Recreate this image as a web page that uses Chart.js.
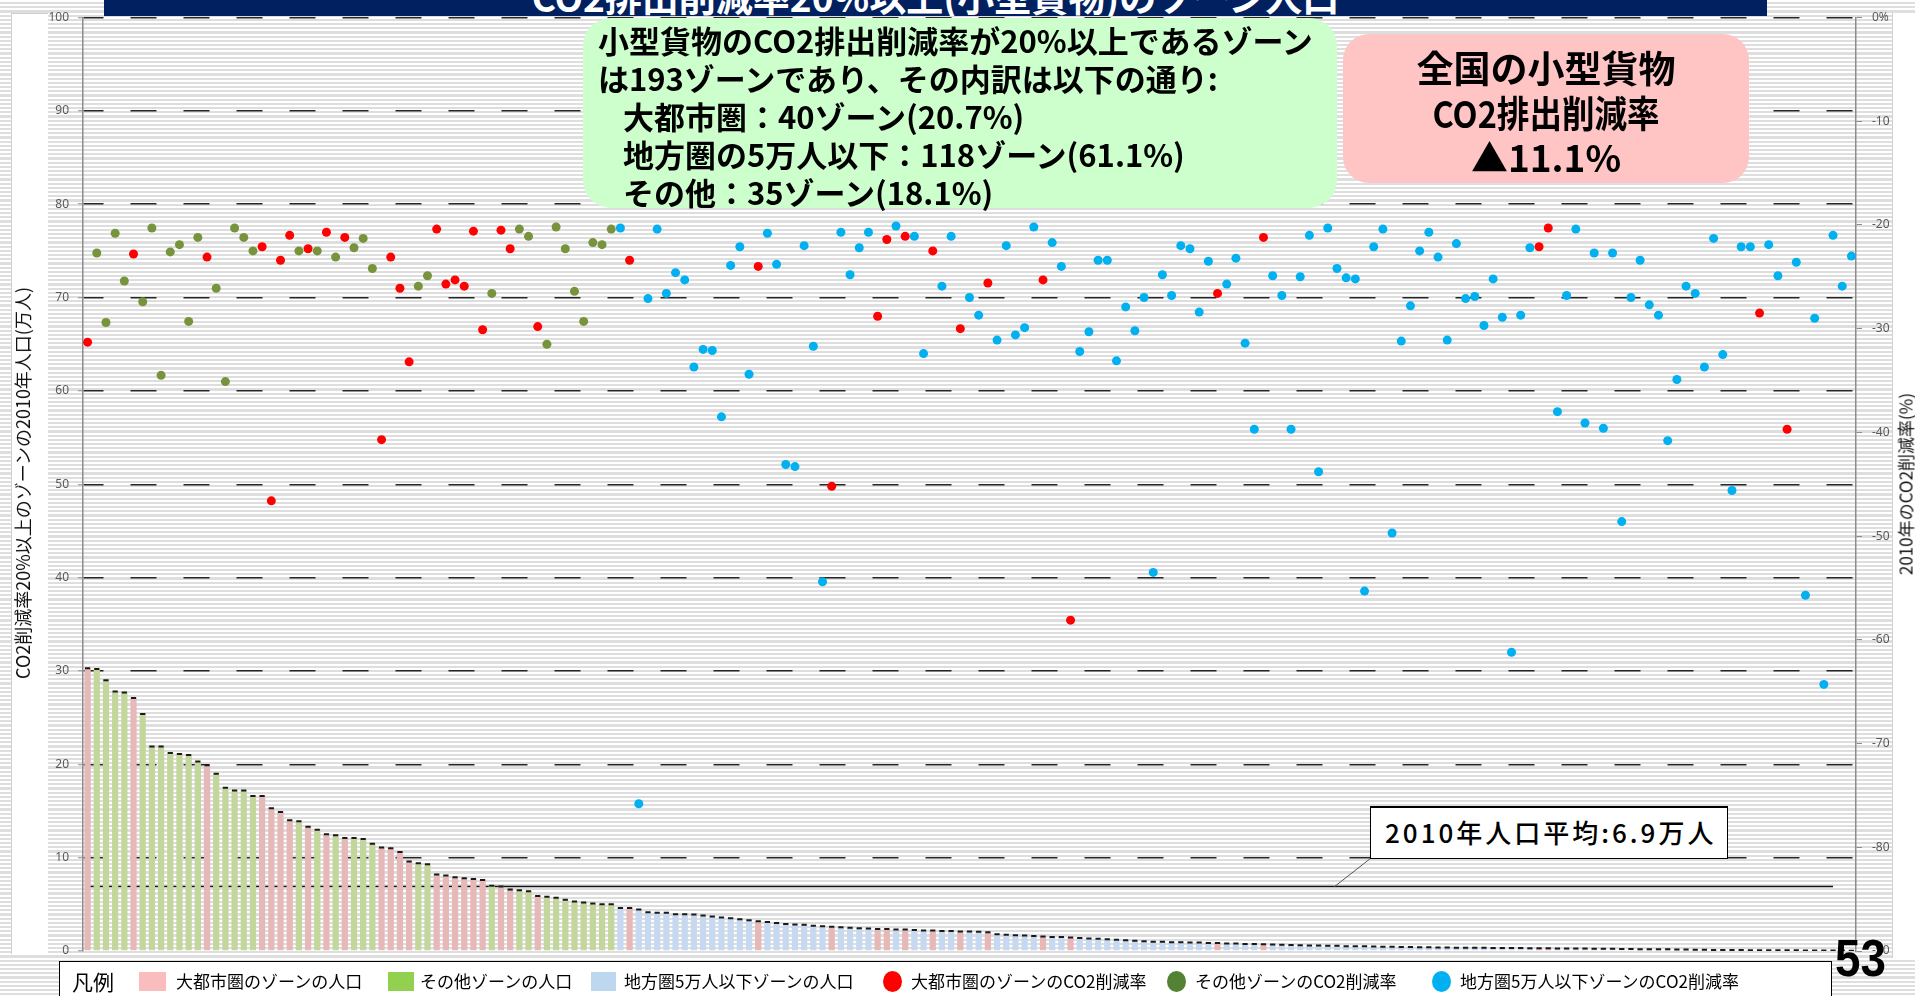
<!DOCTYPE html>
<html lang="ja">
<head>
<meta charset="utf-8">
<title>CO2排出削減率20%以上(小型貨物)のゾーン人口</title>
<script src="https://cdn.jsdelivr.net/npm/chart.js"></script>
<style>
  html, body { margin: 0; padding: 0; }
  body {
    width: 1915px; height: 996px; overflow: hidden; position: relative;
    background: repeating-linear-gradient(to bottom, #ffffff 0px, #ffffff 2.1px, #dedede 2.1px, #dedede 4.2px);
    font-family: "Noto Sans CJK JP", "Noto Sans", sans-serif;
    color: #000;
  }
  .abs { position: absolute; }
  #leftStrip { left: 11px; top: 13px; width: 36px; height: 940px; background: #fff; border-left: 1px solid #d0d0d0; border-top: 1px solid #d0d0d0; }
  #rightStrip { left: 1892px; top: 13px; width: 23px; height: 945px; background: #fff; border-left: 1px solid #d0d0d0; }
  #chartBox { position: absolute; left: 0; top: 0; width: 1915px; height: 996px; }

  #titleBar { left: 104px; top: 0; width: 1663px; height: 16px; background: #002060; overflow: hidden; }
  #titleBar span { position: absolute; left: 0; right: 0; top: -22px; text-align: center; color: #fff;
    font-weight: 700; font-size: 37px; line-height: 37px; white-space: nowrap; }

  .vtitle { white-space: nowrap; transform: translate(-50%, -50%) rotate(-90deg); color: #111; }
  #leftTitle { left: 22px; top: 483px; font-size: 18px; }
  #rightTitle { left: 1905px; top: 484px; font-size: 17px; }

  #greenBox { left: 583px; top: 18px; width: 754px; height: 190px; background: #CCFFCC; border-radius: 28px;
    box-sizing: border-box; padding: 3px 0 0 15px; font-size: 31px; font-weight: 700; line-height: 37.9px; white-space: nowrap; }
  #greenBox .ind { padding-left: 25px; }

  #pinkBox { left: 1343px; top: 34px; width: 406px; height: 149px; background: #FFC4C4; border-radius: 26px;
    box-sizing: border-box; padding-top: 11px; text-align: center; font-size: 37px; font-weight: 700; line-height: 44.5px; white-space: nowrap; }
  #pinkBox .narrow { display: inline-block; transform: scaleX(0.88); }

  #callout { left: 1370px; top: 806px; width: 358px; height: 53px; background: #fff; box-sizing: border-box;
    border: 1.5px solid #000; border-top-width: 2.5px; padding-left: 14px; font-size: 26px; font-weight: 500;
    letter-spacing: 3px; line-height: 48px; white-space: nowrap; }
  #leader { left: 0; top: 0; width: 1915px; height: 996px; pointer-events: none; }

  #legend { left: 59px; top: 961px; width: 1773px; height: 45px; background: #fff; border: 1.5px solid #000; box-sizing: border-box; }
  #legend .t { position: absolute; top: 9px; font-size: 17px; line-height: 20px; white-space: nowrap; }
  #legend .head { position: absolute; left: 12px; top: 7px; font-size: 21px; line-height: 24px; }
  #legend .sq { position: absolute; top: 10px; height: 19px; }
  #legend .dot { position: absolute; top: 9px; width: 19px; height: 21px; border-radius: 50%; }

  #pageNo { left: 1835px; top: 931px; font-family: "Liberation Sans", "DejaVu Sans", sans-serif;
    font-weight: 700; font-size: 52px; line-height: 54px; transform: scaleX(0.88); transform-origin: left top; }
</style>
</head>
<body>
<div id="leftStrip" class="abs"></div>
<div id="rightStrip" class="abs"></div>

<div id="chartBox"><canvas id="zoneChart"></canvas></div>

<div id="titleBar" class="abs"><span>CO2排出削減率20%以上(小型貨物)のゾーン人口</span></div>

<div id="leftTitle" class="abs vtitle">CO2削減率20%以上のゾーンの2010年人口(万人)</div>
<div id="rightTitle" class="abs vtitle">2010年のCO2削減率(%)</div>

<div id="greenBox" class="abs">
  <div>小型貨物のCO2排出削減率が20%以上であるゾーン</div>
  <div>は193ゾーンであり、その内訳は以下の通り:</div>
  <div class="ind">大都市圏：40ゾーン(20.7%)</div>
  <div class="ind">地方圏の5万人以下：118ゾーン(61.1%)</div>
  <div class="ind">その他：35ゾーン(18.1%)</div>
</div>

<div id="pinkBox" class="abs">
  <div>全国の小型貨物</div>
  <div><span class="narrow">CO2排出削減率</span></div>
  <div>▲11.1%</div>
</div>

<svg id="leader" class="abs"><line x1="1371" y1="858" x2="1334" y2="887" stroke="#555" stroke-width="1"/></svg>
<div id="callout" class="abs">2010年人口平均:6.9万人</div>

<div id="legend" class="abs">
  <div class="head">凡例</div>
  <div class="sq" style="left:79px;width:27px;background:#F9BDBD"></div>
  <div class="t" style="left:116px">大都市圏のゾーンの人口</div>
  <div class="sq" style="left:328px;width:26px;background:#92D050"></div>
  <div class="t" style="left:360px">その他ゾーンの人口</div>
  <div class="sq" style="left:531px;width:25px;background:#BDD7EE"></div>
  <div class="t" style="left:564px">地方圏5万人以下ゾーンの人口</div>
  <div class="dot" style="left:823px;background:#FF0000"></div>
  <div class="t" style="left:851px">大都市圏のゾーンのCO2削減率</div>
  <div class="dot" style="left:1107px;background:#548235"></div>
  <div class="t" style="left:1135px">その他ゾーンのCO2削減率</div>
  <div class="dot" style="left:1372px;background:#00B0F0"></div>
  <div class="t" style="left:1400px">地方圏5万人以下ゾーンのCO2削減率</div>
</div>

<div id="pageNo" class="abs">53</div>

<script>
// zone type per zone, in chart order: M = 大都市圏, O = その他, R = 地方圏5万人以下
const zoneType = (
  'MOOOOMOOOO' + 'OOOMOOOOOM' + 'MMMOMOMOMO' + 'OOMMMMOOMM' + 'MMMMOMMOOM' +
  'OOOOOOOORM' + 'RRRRRRRRRR' + 'RRRMRRRRRR' + 'RMRRRRMMRM' + 'RRMRRMRRMR' +
  'RRRRMRRMRR' + 'RRRRRRRRRR' + 'RRRMRRRRMR' + 'RRRRRRRRRR' + 'RRRRRRRRRR' +
  'RRRRRRRRMM' + 'RRRRRRRRRR' + 'RRRRRRRRRR' + 'RRMRRMRRRR' + 'RRR'
).split('');

// 2010年人口 (万人), left axis
const population = [
  30.3, 30.2, 29.0, 27.8, 27.7, 27.1, 25.4, 21.9, 21.9, 21.2,
  21.1, 21.0, 20.3, 19.9, 19.0, 17.5, 17.2, 17.2, 16.6, 16.6,
  15.3, 14.9, 14.0, 13.9, 13.3, 13.0, 12.5, 12.4, 12.1, 12.1,
  12.0, 11.5, 11.1, 11.0, 10.6, 9.6, 9.4, 9.3, 8.2, 8.1,
  7.9, 7.8, 7.7, 7.6, 7.0, 6.9, 6.6, 6.5, 6.4, 5.9,
  5.8, 5.7, 5.5, 5.3, 5.2, 5.1, 5.0, 5.0, 4.6, 4.6,
  4.45, 4.15, 4.1, 4.1, 3.95, 3.95, 3.9, 3.8, 3.7, 3.6,
  3.5, 3.4, 3.3, 3.2, 3.1, 3.0, 2.9, 2.85, 2.8, 2.7,
  2.65, 2.6, 2.55, 2.5, 2.45, 2.4, 2.35, 2.35, 2.3, 2.3,
  2.25, 2.2, 2.2, 2.15, 2.15, 2.1, 2.1, 2.05, 2.0, 1.8,
  1.75, 1.7, 1.65, 1.6, 1.55, 1.5, 1.5, 1.45, 1.4, 1.35,
  1.3, 1.25, 1.2, 1.15, 1.1, 1.05, 1.0, 1.0, 0.95, 0.95,
  0.9, 0.9, 0.85, 0.85, 0.8, 0.8, 0.75, 0.75, 0.72, 0.7,
  0.68, 0.65, 0.62, 0.6, 0.58, 0.55, 0.55, 0.52, 0.5, 0.5,
  0.48, 0.46, 0.45, 0.44, 0.42, 0.4, 0.4, 0.38, 0.38, 0.36,
  0.36, 0.35, 0.34, 0.33, 0.32, 0.32, 0.31, 0.3, 0.3, 0.29,
  0.28, 0.28, 0.27, 0.26, 0.25, 0.24, 0.23, 0.22, 0.21, 0.2,
  0.2, 0.19, 0.18, 0.16, 0.15, 0.14, 0.13, 0.12, 0.11, 0.1,
  0.1, 0.09, 0.09, 0.08, 0.08, 0.07, 0.07, 0.06, 0.06, 0.05,
  0.05, 0.05, 0.04
];

// 2010年のCO2削減率 (%), right axis
const reductionRate = [
  -31.3, -22.7, -29.4, -20.8, -25.4, -22.8, -27.4, -20.3, -34.5, -22.6,
  -21.9, -29.3, -21.2, -23.1, -26.1, -35.1, -20.3, -21.2, -22.5, -22.1,
  -46.6, -23.4, -21.0, -22.5, -22.3, -22.5, -20.7, -23.1, -21.2, -22.2,
  -21.3, -24.2, -40.7, -23.1, -26.1, -33.2, -25.9, -24.9, -20.4, -25.7,
  -25.3, -25.9, -20.6, -30.1, -26.6, -20.5, -22.3, -20.4, -21.1, -29.8,
  -31.5, -20.2, -22.3, -26.4, -29.3, -21.7, -21.9, -20.4, -20.3, -23.4,
  -75.8, -27.1, -20.4, -26.6, -24.6, -25.3, -33.7, -32.0, -32.1, -38.5,
  -23.9, -22.1, -34.4, -24.0, -20.8, -23.8, -43.1, -43.3, -22.0, -31.7,
  -54.4, -45.2, -20.7, -24.8, -22.2, -20.7, -28.8, -21.4, -20.1, -21.1,
  -21.1, -32.4, -22.5, -25.9, -21.1, -30.0, -27.0, -28.7, -25.6, -31.1,
  -22.0, -30.6, -29.9, -20.2, -25.3, -21.7, -24.0, -58.1, -32.2, -30.3,
  -23.4, -23.4, -33.1, -27.9, -30.2, -27.0, -53.5, -24.8, -26.8, -22.0,
  -22.3, -28.4, -23.5, -26.6, -25.7, -23.2, -31.4, -39.7, -21.2, -24.9,
  -26.8, -39.7, -25.0, -21.0, -43.8, -20.3, -24.2, -25.1, -25.2, -55.3,
  -22.1, -20.4, -49.7, -31.2, -27.8, -22.5, -20.7, -23.1, -31.1, -21.8,
  -27.1, -26.9, -29.7, -25.2, -28.9, -61.2, -28.7, -22.2, -22.1, -20.3,
  -38.0, -26.8, -20.4, -39.1, -22.7, -39.6, -22.7, -48.6, -27.0, -23.4,
  -27.7, -28.7, -40.8, -34.9, -25.9, -26.6, -33.7, -21.3, -32.5, -45.6,
  -22.1, -22.1, -28.5, -21.9, -24.9, -39.7, -23.6, -55.7, -29.0, -64.3,
  -21.0, -25.9, -23.0
];

const avgPopulation = 6.9;      // 2010年人口平均 (万人)
const avgLineLastZone = 191;    // the average line stops near the right end

const leftTicks = { min: 0, max: 100, step: 10 };
const rightTicks = { min: -90, max: 0, step: 10 };

const barColor = { M: '#E6B9B8', O: '#C3D69B', R: '#C6D9F1' };
const dotColor = { M: '#FF0000', O: '#77933C', R: '#00B0F0' };

const zoneLabels = population.map((_, i) => 'ゾーン' + (i + 1));

const tickFont = { family: '"Noto Sans", sans-serif', size: 12 };

new Chart(document.getElementById('zoneChart'), {
  type: 'bar',
  data: {
    labels: zoneLabels,
    datasets: [
      {
        type: 'line',
        label: '2010年人口平均',
        data: [
          { x: zoneLabels[0], y: avgPopulation },
          { x: zoneLabels[avgLineLastZone - 1], y: avgPopulation }
        ],
        borderColor: '#111',
        borderWidth: 1.5,
        pointRadius: 0,
        yAxisID: 'y',
        order: 4
      },
      {
        type: 'bar',
        label: 'ゾーンの人口',
        data: population,
        backgroundColor: zoneType.map(t => barColor[t]),
        borderWidth: 0,
        barPercentage: 0.68,
        categoryPercentage: 1.0,
        yAxisID: 'y',
        order: 3
      },
      {
        // short dark cap drawn on top of every bar
        type: 'line',
        label: 'cap',
        data: population,
        showLine: false,
        pointStyle: 'line',
        pointRadius: 2.6,
        pointBorderWidth: 2,
        pointBorderColor: '#1a1a1a',
        yAxisID: 'y',
        order: 2
      },
      {
        type: 'line',
        label: 'ゾーンのCO2削減率',
        data: reductionRate,
        showLine: false,
        pointRadius: 4.5,
        pointBorderWidth: 0,
        pointBackgroundColor: zoneType.map(t => dotColor[t]),
        yAxisID: 'y2',
        order: 1
      }
    ]
  },
  options: {
    responsive: true,
    maintainAspectRatio: false,
    animation: false,
    devicePixelRatio: 1,
    layout: { padding: { top: 17.5, bottom: 45, left: 0, right: 0 } },
    plugins: { legend: { display: false }, tooltip: { enabled: false } },
    scales: {
      x: { type: 'category', display: false, offset: true, grid: { display: false } },
      y: {
        position: 'left',
        min: leftTicks.min, max: leftTicks.max,
        ticks: { stepSize: leftTicks.step, color: '#595959', font: tickFont, padding: 9 },
        grid: {
          color: c => (c.tick && c.tick.value === 0) ? 'rgba(0,0,0,0)' : '#262626',
          lineWidth: 1.5,
          tickLength: 5,
          tickColor: '#8c8c8c',
          tickWidth: 1,
          tickBorderDash: []
        },
        border: { color: '#8c8c8c', width: 1.5, dash: [26, 27], dashOffset: 6 },
        afterFit: s => { s.width = 83; }
      },
      y2: {
        position: 'right',
        min: rightTicks.min, max: rightTicks.max,
        ticks: {
          stepSize: rightTicks.step, color: '#595959', font: tickFont, padding: 10,
          callback: v => v === 0 ? '0%' : v
        },
        grid: { drawOnChartArea: false, tickLength: 6, tickColor: '#8c8c8c', tickWidth: 1 },
        border: { color: '#8c8c8c', width: 1.5 },
        afterFit: s => { s.width = 59; }
      }
    }
  }
});
</script>
</body>
</html>
